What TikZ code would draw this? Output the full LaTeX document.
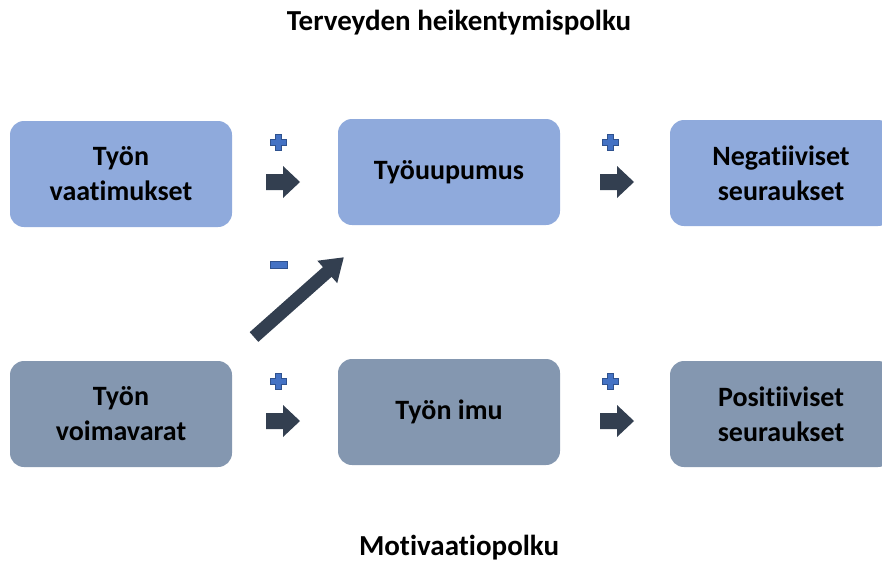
\documentclass[tikz,border=0pt]{standalone}
\usepackage{fontspec}
\setmainfont{Carlito}[Ligatures=NoCommon]
\definecolor{topbox}{HTML}{8FAADC}
\definecolor{botbox}{HTML}{8497B0}
\definecolor{arrowc}{HTML}{333F50}
\definecolor{signc}{HTML}{4472C4}
\definecolor{signb}{HTML}{2F528F}
\tikzset{
  box/.style={rounded corners=14pt, minimum width=222pt, minimum height=106pt, inner sep=0pt, align=center,
     font=\fontsize{28}{35}\selectfont\bfseries},
  topb/.style={box, fill=topbox},
  botb/.style={box, fill=botbox},
  ttl/.style={inner sep=0pt, font=\fontsize{29}{32}\selectfont\bfseries},
  blk/.style={fill=arrowc},
  sgn/.style={fill=signc, draw=signb, line width=0.8pt}
}
\newcommand{\rarrow}[2]{% left x, center y
  \fill[blk] (#1,#2-8) -- (#1+17,#2-8) -- (#1+17,#2-16) -- (#1+34,#2) -- (#1+17,#2+16) -- (#1+17,#2+8) -- (#1,#2+8) -- cycle;}
\newcommand{\plussign}[2]{% center
  \draw[sgn] (#1-3,#2-8) -- (#1+3,#2-8) -- (#1+3,#2-3) -- (#1+8,#2-3) -- (#1+8,#2+3) -- (#1+3,#2+3) -- (#1+3,#2+8) -- (#1-3,#2+8) -- (#1-3,#2+3) -- (#1-8,#2+3) -- (#1-8,#2-3) -- (#1-3,#2-3) -- cycle;}
\begin{document}
\begin{tikzpicture}[x=1pt,y=-1pt]
\useasboundingbox (0,0) rectangle (882,562);
\node[ttl] (t1) at (459,23) {Terveyden heikentymispolku};
\node[ttl] (t2) at (459,548) {Motivaatiopolku};
\node[topb] (a1) at (121,174) {Työn\\vaatimukset};
\node[topb] (a2) at (449,172) {Työuupumus};
\node[topb] (a3) at (781,173) {Negatiiviset\\seuraukset};
\node[botb] (b1) at (121,414) {Työn\\voimavarat};
\node[botb] (b2) at (449,412) {Työn imu};
\node[botb] (b3) at (781,414) {Positiiviset\\seuraukset};
\rarrow{266}{182}
\rarrow{600}{182}
\rarrow{266}{421}
\rarrow{600}{421}
\plussign{278}{142}
\plussign{610}{142}
\plussign{278}{381}
\plussign{610}{381}
\draw[sgn] (270,261) rectangle (287,268);
\begin{scope}[shift={(254,337)}, rotate=41.6]
\fill[blk] (0,-6.5) -- (98,-6.5) -- (98,-15) -- (120,0) -- (98,15) -- (98,6.5) -- (0,6.5) -- cycle;
\end{scope}
\end{tikzpicture}
\end{document}
